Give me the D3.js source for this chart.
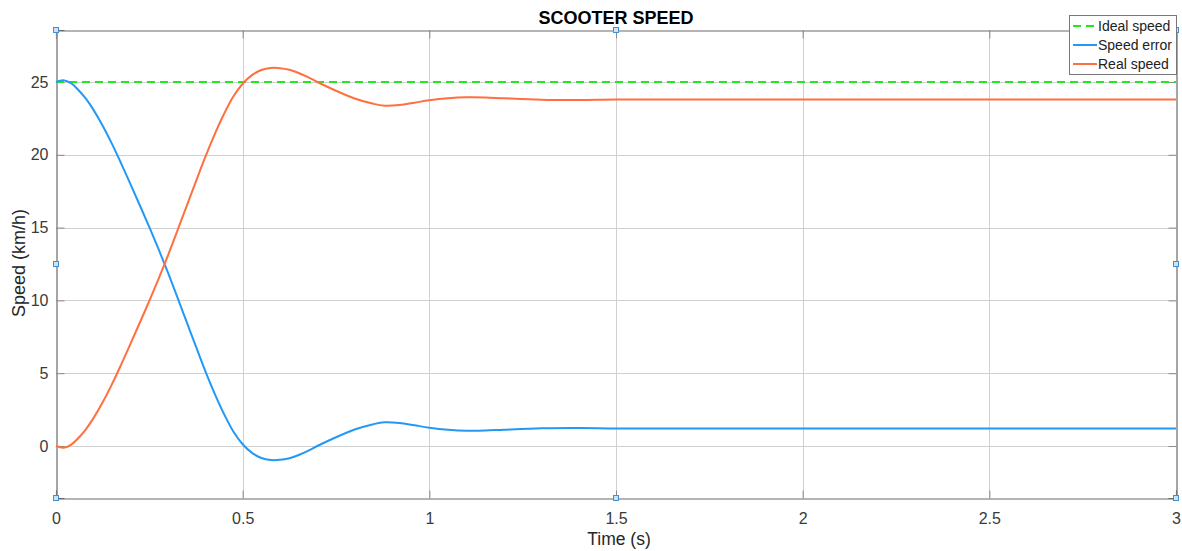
<!DOCTYPE html>
<html>
<head>
<meta charset="utf-8">
<script src="https://cdn.jsdelivr.net/npm/d3@7"></script>
<style>
  html, body { margin: 0; padding: 0; background: #fff; }
  svg { display: block; font-family: "Liberation Sans", Arial, Helvetica, sans-serif; }
</style>
</head>
<body>
<svg id="chart" width="1182" height="551"></svg>
<script>
// Simulated scooter speed response (time in seconds, speed in km/h)
const time = [0, 0.02, 0.04, 0.06, 0.08, 0.1, 0.125, 0.15, 0.175, 0.2, 0.225, 0.25, 0.275, 0.3,
  0.325, 0.35, 0.375, 0.4, 0.425, 0.45, 0.475, 0.5, 0.525, 0.55, 0.575, 0.6, 0.625, 0.65, 0.675,
  0.7, 0.75, 0.8, 0.85, 0.88, 0.92, 0.96, 1.0, 1.05, 1.1, 1.15, 1.2, 1.3, 1.4, 1.5, 1.75, 2, 2.5, 3];

const realSpeed = [0, -0.12, 0.08, 0.55, 1.15, 1.9, 3.0, 4.25, 5.62, 7.05, 8.5, 9.97, 11.5, 13.1,
  14.78, 16.48, 18.18, 19.85, 21.4, 22.8, 24.0, 24.88, 25.47, 25.82, 25.96, 25.95, 25.84, 25.62, 25.33,
  25.0, 24.4, 23.87, 23.5, 23.37, 23.42, 23.58, 23.74, 23.88, 23.95, 23.94, 23.88, 23.78, 23.76, 23.79,
  23.8, 23.8, 23.8, 23.8];

const speedError = [25, 25.12, 24.92, 24.45, 23.85, 23.1, 22.0, 20.75, 19.38, 17.95, 16.5, 15.03, 13.5, 11.9,
  10.22, 8.52, 6.82, 5.15, 3.6, 2.2, 1.0, 0.12, -0.47, -0.82, -0.96, -0.95, -0.84, -0.62, -0.33,
  0.0, 0.6, 1.13, 1.5, 1.63, 1.58, 1.42, 1.26, 1.12, 1.05, 1.06, 1.12, 1.22, 1.24, 1.21,
  1.2, 1.2, 1.2, 1.2];

const idealSpeed = 25;

const xTicks = [0, 0.5, 1, 1.5, 2, 2.5, 3];
const yTicks = [0, 5, 10, 15, 20, 25];

const seriesNames = ["Ideal speed", "Speed error", "Real speed"];
const seriesColors = ["#1eeb1e", "#2299f6", "#ff6f3f"];

const svg = d3.select("#chart");
const plotLeft = 56, plotRight = 1176, plotTop = 30, plotBottom = 498;

const x = d3.scaleLinear().domain([0, 3]).range([plotLeft, plotRight]);
const y = d3.scaleLinear().domain([-3.57, 28.57]).range([plotBottom, plotTop]);

// Grid
const grid = svg.append("g").attr("stroke", "#d0d0d0").attr("stroke-width", 1);
grid.selectAll(".gx").data(xTicks.slice(1, -1)).join("line")
  .attr("x1", d => Math.round(x(d)) + 0.5).attr("x2", d => Math.round(x(d)) + 0.5)
  .attr("y1", plotTop).attr("y2", plotBottom);
grid.selectAll(".gy").data(yTicks).join("line")
  .attr("y1", d => Math.round(y(d)) + 0.5).attr("y2", d => Math.round(y(d)) + 0.5)
  .attr("x1", plotLeft).attr("x2", plotRight);

// Axes (ticks drawn inward)
const axisColor = "#6b6b6b";
const xAxis = svg.append("g").attr("transform", `translate(0,${plotBottom + 0.5})`)
  .call(d3.axisBottom(x).tickValues(xTicks).tickSize(-8).tickPadding(14).tickFormat(d3.format("")));
const yAxis = svg.append("g").attr("transform", `translate(${plotLeft + 0.5},0)`)
  .call(d3.axisLeft(y).tickValues(yTicks).tickSize(-8).tickPadding(8).tickFormat(d3.format("")));
const xAxisTop = svg.append("g").attr("transform", `translate(0,${plotTop + 0.5})`)
  .call(d3.axisTop(x).tickValues(xTicks).tickSize(-8).tickFormat(""));
const yAxisRight = svg.append("g").attr("transform", `translate(${plotRight + 0.5},0)`)
  .call(d3.axisRight(y).tickValues(yTicks).tickSize(-8).tickFormat(""));

[xAxis, yAxis, xAxisTop, yAxisRight].forEach(g => {
  g.select(".domain").attr("stroke", axisColor).attr("stroke-width", 1.2);
  g.selectAll(".tick line").attr("stroke", "#8a8a8a");
  g.selectAll(".tick text").attr("fill", "#3a3a3a").attr("font-size", 16);
});

// Series
const pts = (vals) => time.map((t, i) => [t, vals[i]]);
const line = d3.line().x(d => x(d[0])).y(d => y(d[1])).curve(d3.curveCatmullRom.alpha(0.5));

svg.append("line")
  .attr("x1", x(0)).attr("x2", x(3))
  .attr("y1", y(idealSpeed)).attr("y2", y(idealSpeed))
  .attr("stroke", seriesColors[0]).attr("stroke-width", 2.2)
  .attr("stroke-dasharray", "8,5");

svg.append("path").datum(pts(speedError))
  .attr("d", line).attr("fill", "none")
  .attr("stroke", seriesColors[1]).attr("stroke-width", 2);

svg.append("path").datum(pts(realSpeed))
  .attr("d", line).attr("fill", "none")
  .attr("stroke", seriesColors[2]).attr("stroke-width", 2);

// Selection handles around the axes
const handles = [[plotLeft, plotTop], [(plotLeft + plotRight) / 2, plotTop], [plotRight, plotTop],
  [plotLeft, (plotTop + plotBottom) / 2], [plotRight, (plotTop + plotBottom) / 2],
  [plotLeft, plotBottom], [(plotLeft + plotRight) / 2, plotBottom], [plotRight, plotBottom]];
svg.append("g").selectAll("rect").data(handles).join("rect")
  .attr("x", d => d[0] - 2.5).attr("y", d => d[1] - 2.5)
  .attr("width", 5).attr("height", 5)
  .attr("fill", "#cfe2f5").attr("stroke", "#3f8fd2").attr("stroke-width", 1);

// Title and axis labels
svg.append("text").attr("x", (plotLeft + plotRight) / 2).attr("y", 24)
  .attr("text-anchor", "middle").attr("font-size", 18).attr("font-weight", "bold")
  .attr("fill", "#000").text("SCOOTER SPEED");

svg.append("text").attr("x", (plotLeft + plotRight) / 2 + 3).attr("y", 545)
  .attr("text-anchor", "middle").attr("font-size", 17.5).attr("fill", "#262626")
  .text("Time (s)");

svg.append("text").attr("transform", `translate(25,${(plotTop + plotBottom) / 2 - 1}) rotate(-90)`)
  .attr("text-anchor", "middle").attr("font-size", 18).attr("fill", "#262626")
  .text("Speed (km/h)");

// Legend
const lg = svg.append("g").attr("transform", "translate(1069,15)");
lg.append("rect").attr("x", 0.5).attr("y", 0.5).attr("width", 107).attr("height", 59)
  .attr("fill", "#fff").attr("stroke", "#777").attr("stroke-width", 1);
seriesNames.forEach((name, i) => {
  const cy = 11 + i * 19;
  lg.append("line").attr("x1", 4).attr("x2", 28).attr("y1", cy).attr("y2", cy)
    .attr("stroke", seriesColors[i]).attr("stroke-width", 2)
    .attr("stroke-dasharray", i === 0 ? "8,5" : null);
  lg.append("text").attr("x", 29).attr("y", cy + 5).attr("font-size", 14)
    .attr("fill", "#222").text(name);
});
</script>
</body>
</html>
